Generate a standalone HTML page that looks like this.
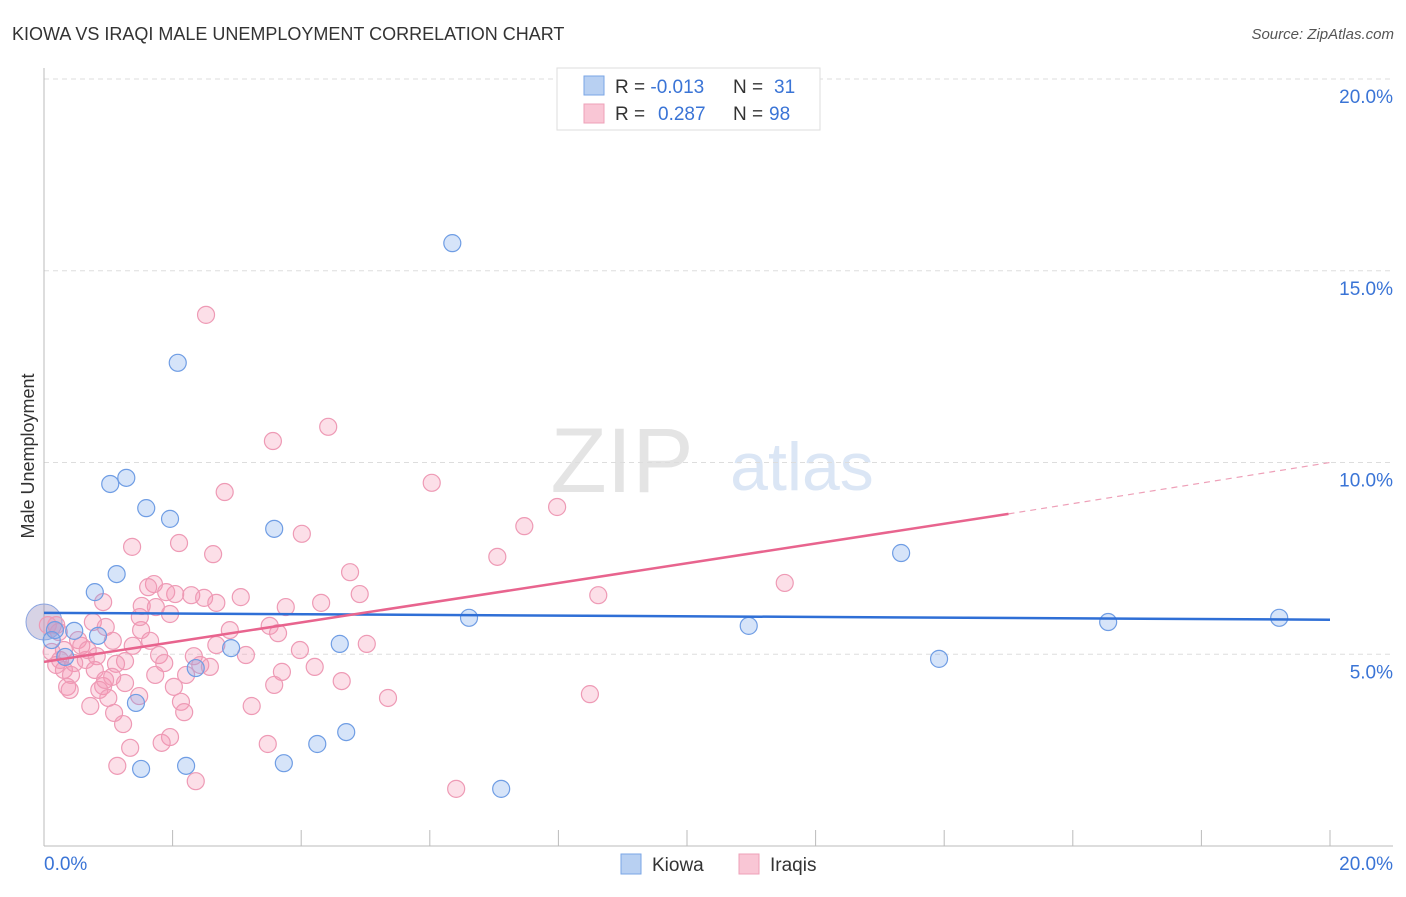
<!DOCTYPE html>
<html><head><meta charset="utf-8"><style>
body{margin:0;background:#fff;font-family:"Liberation Sans",sans-serif;}
svg text{font-family:"Liberation Sans",sans-serif;}
</style></head><body>
<svg id="chart" width="1406" height="892">
<text x="12" y="40" font-size="18" fill="#333">KIOWA VS IRAQI MALE UNEMPLOYMENT CORRELATION CHART</text>
<text x="1394" y="39" font-size="15" fill="#555" font-style="italic" text-anchor="end">Source: ZipAtlas.com</text>
<text x="622" y="492" font-size="92" fill="#e4e4e4" font-family="Liberation Serif" text-anchor="middle">ZIP</text>
<text x="802" y="490" font-size="68" fill="#dbe6f5" text-anchor="middle">atlas</text>
<text transform="translate(34,456) rotate(-90)" font-size="18" fill="#333" text-anchor="middle">Male Unemployment</text>
<g id="grid"></g><g id="axes"></g><g id="pts"></g><g id="trend"></g>
<g>
<rect x="557" y="68" width="263" height="62" fill="#fff" stroke="#ddd"/>
<rect x="584" y="76" width="20" height="19" fill="#b8d0f2" stroke="#7aa6e6"/>
<rect x="584" y="104" width="20" height="19" fill="#f9c6d5" stroke="#eea0b8"/>
<text x="615" y="93" font-size="19" fill="#333">R = <tspan fill="#3a74d6">-0.013</tspan><tspan x="733">N = </tspan><tspan fill="#3a74d6" x="774">31</tspan></text>
<text x="615" y="120" font-size="19" fill="#333">R = <tspan fill="#3a74d6" x="658">0.287</tspan><tspan x="733">N = </tspan><tspan fill="#3a74d6" x="769">98</tspan></text>
</g>
<g>
<rect x="621" y="854" width="20" height="20" fill="#b8d0f2" stroke="#7aa6e6"/>
<text x="652" y="871" font-size="19" fill="#333">Kiowa</text>
<rect x="739" y="854" width="20" height="20" fill="#f9c6d5" stroke="#eea0b8"/>
<text x="770" y="871" font-size="19" fill="#333">Iraqis</text>
</g>
</svg>
<script>
const yTicks=[5,10,15,20];
const yTickLabels=["5.0%","10.0%","15.0%","20.0%"];
const kiowaX=[6.35,2.08,1.28,1.03,1.59,1.96,3.58,13.33,1.13,0.79,6.61,16.55,19.21,10.96,0.47,0.84,2.91,4.6,13.92,2.36,0.33,1.43,4.7,4.25,1.51,2.21,3.73,7.11,0.17,0.12];
const kiowaY=[15.72,12.6,9.6,9.44,8.81,8.53,8.27,7.64,7.09,6.62,5.95,5.84,5.95,5.74,5.61,5.48,5.16,5.27,4.88,4.64,4.93,3.73,2.97,2.66,2.01,2.09,2.16,1.49,5.63,5.37];
const iraqiX=[2.52,3.56,4.42,6.03,2.81,7.98,7.47,4.01,2.1,1.37,2.63,7.05,4.76,11.52,1.71,1.62,2.04,2.29,2.49,3.06,4.91,8.62,0.92,2.68,3.76,4.31,1.52,1.74,1.96,0.76,0.96,3.51,0.19,0.23,1.51,3.64,5.02,2.68,1.65,1.38,1.07,0.53,0.31,0.12,1.79,2.33,0.82,0.65,0.47,1.26,1.87,2.43,1.12,4.21,2.58,0.31,0.79,3.7,0.42,1.73,2.21,1.06,0.19,4.63,1.26,0.92,0.36,0.86,2.02,3.58,1.0,5.35,8.49,2.13,1.48,0.72,3.23,2.18,1.09,1.23,1.96,1.83,3.48,1.34,1.14,2.36,6.41,0.06,0.58,0.25,0.68,2.89,3.14,1.9,1.49,3.98,0.4,0.95];
const iraqiY=[13.85,10.56,10.93,9.47,9.23,8.84,8.34,8.14,7.9,7.8,7.61,7.54,7.14,6.86,6.83,6.75,6.57,6.54,6.47,6.49,6.57,6.54,6.36,6.34,6.23,6.34,6.26,6.23,6.05,5.84,5.71,5.74,5.76,5.58,5.63,5.55,5.27,5.24,5.35,5.22,5.35,5.37,5.11,5.06,4.98,4.95,4.95,4.85,4.77,4.82,4.77,4.72,4.75,4.67,4.67,4.59,4.59,4.54,4.46,4.46,4.46,4.41,4.72,4.3,4.25,4.17,4.15,4.07,4.15,4.2,3.86,3.86,3.96,3.76,3.91,3.65,3.65,3.49,3.47,3.18,2.84,2.69,2.66,2.56,2.09,1.69,1.49,5.76,5.22,4.85,5.11,5.63,4.98,6.62,5.97,5.11,4.07,4.33];
const kiowaTrend=[[0,6.08],[20,5.9]];
const iraqiTrend=[[0,4.8],[15.0,8.66],[20,10.0]];
const NS="http://www.w3.org/2000/svg";
const X0=44,X1=1330,Y0=846,PPY=38.35;
const sx=v=>X0+v/20*(X1-X0), sy=v=>Y0-v*PPY;
function mk(tag,attrs,parent){const e=document.createElementNS(NS,tag);for(const k in attrs)e.setAttribute(k,attrs[k]);document.getElementById(parent).appendChild(e);return e;}
yTicks.forEach((t,i)=>{
 const l=mk('line',{x1:X0,x2:1393,y1:sy(t),y2:sy(t),stroke:'#ddd','stroke-dasharray':'5,4'},'grid');
 
 
 const tx=mk('text',{x:1393,y:sy(t)+24,'font-size':19,fill:'#3a74d6','text-anchor':'end'},'grid');
 tx.textContent=yTickLabels[i];
 
 
});
const ax=mk('line',{x1:X0,x2:1393,y1:Y0,y2:Y0,stroke:'#bbb'},'axes');


const ay=mk('line',{x1:X0,x2:X0,y1:68,y2:Y0,stroke:'#bbb'},'axes');


for(let i=0;i<=10;i++){const t=mk('line',{x1:sx(i*2),x2:sx(i*2),y1:830,y2:Y0,stroke:'#bbb'},'axes');
 
 }
const xl=mk('text',{x:44,y:870,'font-size':19,fill:'#3a74d6'},'axes');xl.textContent='0.0%';


const xr=mk('text',{x:1393,y:870,'font-size':19,fill:'#3a74d6','text-anchor':'end'},'axes');xr.textContent='20.0%';


// origin big bubbles
const bb=mk('circle',{cx:sx(0),cy:sy(5.84),r:18,fill:'rgba(140,130,180,0.35)',stroke:'#8aa4e0'},'pts');


iraqiX.forEach((x,i)=>{const c=mk('circle',{cx:sx(x),cy:sy(iraqiY[i]),r:8.5,fill:'rgba(244,150,178,0.3)',stroke:'#ee9ab5','stroke-width':1.2},'pts');
 
 });
kiowaX.forEach((x,i)=>{const c=mk('circle',{cx:sx(x),cy:sy(kiowaY[i]),r:8.5,fill:'rgba(120,165,235,0.3)',stroke:'#6f9de4','stroke-width':1.2},'pts');
 
 });
const kt=mk('line',{x1:sx(kiowaTrend[0][0]),y1:sy(kiowaTrend[0][1]),x2:sx(kiowaTrend[1][0]),y2:sy(kiowaTrend[1][1]),stroke:'#2f6fd6','stroke-width':2.5},'trend');


const it=mk('line',{x1:sx(iraqiTrend[0][0]),y1:sy(iraqiTrend[0][1]),x2:sx(iraqiTrend[1][0]),y2:sy(iraqiTrend[1][1]),stroke:'#e8648e','stroke-width':2.5},'trend');


const id=mk('line',{x1:sx(iraqiTrend[1][0]),y1:sy(iraqiTrend[1][1]),x2:sx(iraqiTrend[2][0]),y2:sy(iraqiTrend[2][1]),stroke:'#eea0b8','stroke-width':1.2,'stroke-dasharray':'6,5'},'trend');


</script>
</body></html>
